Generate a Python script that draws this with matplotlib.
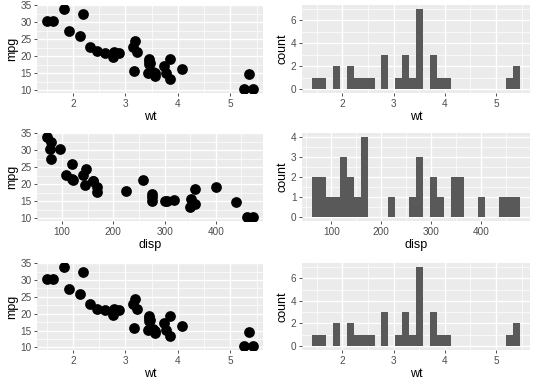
import numpy as np
import matplotlib.pyplot as plt
from matplotlib.ticker import MultipleLocator, AutoMinorLocator

plt.rcParams["font.family"] = ["Liberation Sans", "DejaVu Sans"]

# mtcars columns
mpg = [21.0, 21.0, 22.8, 21.4, 18.7, 18.1, 14.3, 24.4, 22.8, 19.2, 17.8, 16.4,
       17.3, 15.2, 10.4, 10.4, 14.7, 32.4, 30.4, 33.9, 21.5, 15.5, 15.2, 13.3,
       19.2, 27.3, 26.0, 30.4, 15.8, 19.7, 15.0, 21.4]
disp = [160, 160, 108, 258, 360, 225, 360, 146.7, 140.8, 167.6, 167.6, 275.8,
        275.8, 275.8, 472, 460, 440, 78.7, 75.7, 71.1, 120.1, 318, 304, 350,
        400, 79, 120.3, 95.1, 351, 145, 301, 121]
wt = [2.620, 2.875, 2.320, 3.215, 3.440, 3.460, 3.570, 3.190, 3.150, 3.440,
      3.440, 4.070, 3.730, 3.780, 5.250, 5.424, 5.345, 2.200, 1.615, 1.835,
      2.465, 3.520, 3.435, 3.840, 3.845, 1.935, 2.140, 1.513, 3.170, 2.770,
      3.570, 2.780]

BG = "#EBEBEB"
W, H = 540, 386

fig = plt.figure(figsize=(W / 100, H / 100), dpi=100)


def panel(x0, y0, x1, y1):
    ax = fig.add_axes([x0 / W, 1 - y1 / H, (x1 - x0) / W, (y1 - y0) / H])
    ax.set_facecolor(BG)
    for s in ax.spines.values():
        s.set_visible(False)
    ax.set_axisbelow(True)
    ax.grid(which="major", color="white", linewidth=1.0)
    ax.grid(which="minor", color="white", linewidth=0.5)
    ax.tick_params(which="major", length=2.5, width=0.6, color="#333333",
                   labelsize=7.2, labelcolor="#4D4D4D", pad=1.5)
    ax.tick_params(which="minor", length=0)
    ax.xaxis.set_minor_locator(AutoMinorLocator(2))
    ax.yaxis.set_minor_locator(AutoMinorLocator(2))
    return ax


def expand(lo, hi, m=0.05):
    d = (hi - lo) * m
    return lo - d, hi + d


def scatter(ax, x, y, xlab, xstep):
    ax.scatter(x, y, s=60, color="black", linewidths=0, zorder=3)
    ax.set_xlim(*expand(min(x), max(x)))
    ax.set_ylim(*expand(min(y), max(y)))
    ax.xaxis.set_major_locator(MultipleLocator(xstep))
    ax.yaxis.set_major_locator(MultipleLocator(5))
    ax.set_xlabel(xlab, fontsize=9, labelpad=1.5)
    ax.set_ylabel("mpg", fontsize=9, labelpad=1.5)


def hist(ax, x, xlab, xstep, ystep):
    # ggplot2-style 30-bin breaks: width = range / 29, boundary at width / 2
    x = np.asarray(x, dtype=float)
    width = (x.max() - x.min()) / 29
    origin = width / 2 + np.floor((x.min() - width / 2) / width) * width
    nb = int(np.ceil((x.max() - origin) / width))
    edges = origin + width * np.arange(nb + 1)
    # right-closed bins
    idx = np.clip(np.searchsorted(edges, x - 1e-9, side="left") - 1, 0, nb - 1)
    counts = np.bincount(idx, minlength=nb)
    ax.bar(edges[:-1], counts, width=width, align="edge", color="#595959",
           linewidth=0, zorder=3)
    ax.set_xlim(*expand(edges[0], edges[-1]))
    ax.set_ylim(*expand(0, counts.max()))
    ax.xaxis.set_major_locator(MultipleLocator(xstep))
    ax.yaxis.set_major_locator(MultipleLocator(ystep))
    ax.yaxis.set_minor_locator(AutoMinorLocator(2))
    ax.set_xlabel(xlab, fontsize=9, labelpad=1.5)
    ax.set_ylabel("count", fontsize=9, labelpad=1.5)


rows = [(5, 93), (133, 221), (263, 350)]
left = (37, 263)
right = (302, 530)

scatter(panel(left[0], rows[0][0], left[1], rows[0][1]), wt, mpg, "wt", 1)
hist(panel(right[0], rows[0][0], right[1], rows[0][1]), wt, "wt", 1, 2)
scatter(panel(left[0], rows[1][0], left[1], rows[1][1]), disp, mpg, "disp", 100)
hist(panel(right[0], rows[1][0], right[1], rows[1][1]), disp, "disp", 100, 1)
scatter(panel(left[0], rows[2][0], left[1], rows[2][1]), wt, mpg, "wt", 1)
hist(panel(right[0], rows[2][0], right[1], rows[2][1]), wt, "wt", 1, 2)

fig.savefig("out.png", dpi=100, facecolor="white")
